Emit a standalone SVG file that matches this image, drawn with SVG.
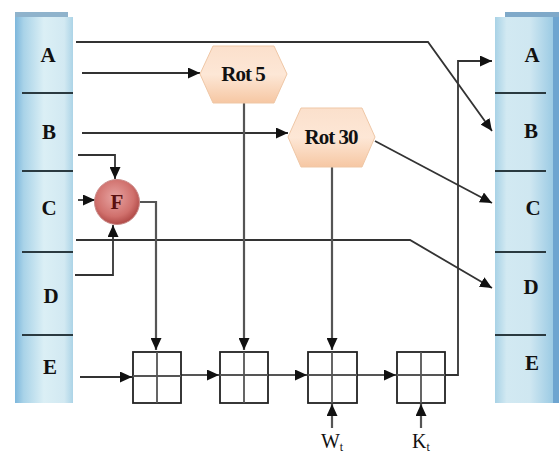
<svg xmlns="http://www.w3.org/2000/svg" width="559" height="457" viewBox="0 0 559 457">
<defs>
<linearGradient id="colL" x1="0" y1="0" x2="1" y2="0">
<stop offset="0" stop-color="#7db7dc"/>
<stop offset="0.15" stop-color="#a9d3e8"/>
<stop offset="0.5" stop-color="#dbeff5"/>
<stop offset="0.85" stop-color="#d2e9f2"/>
<stop offset="1" stop-color="#acd4e7"/>
</linearGradient>
<linearGradient id="colR" x1="0" y1="0" x2="1" y2="0">
<stop offset="0" stop-color="#a8d2e6"/>
<stop offset="0.2" stop-color="#d2e9f2"/>
<stop offset="0.6" stop-color="#cfe7f1"/>
<stop offset="1" stop-color="#9ccbe4"/>
</linearGradient>
<linearGradient id="hex" x1="0" y1="0" x2="0" y2="1">
<stop offset="0" stop-color="#fbe0cc"/>
<stop offset="0.5" stop-color="#fde7d6"/>
<stop offset="1" stop-color="#f6c7a3"/>
</linearGradient>
<radialGradient id="fball" cx="0.45" cy="0.4" r="0.6">
<stop offset="0" stop-color="#e7a4a2"/>
<stop offset="0.7" stop-color="#d0706c"/>
<stop offset="1" stop-color="#b04a47"/>
</radialGradient>
<marker id="ah" markerUnits="userSpaceOnUse" markerWidth="13" markerHeight="11" refX="12" refY="5.5" orient="auto" viewBox="0 0 13 11">
<path d="M0,0 L12,5.5 L0,11 z" fill="#111"/>
</marker>
</defs>
<style>
.lbl{font-family:"Liberation Serif","DejaVu Serif","Times New Roman",serif;font-weight:bold;font-size:21px;fill:#111;text-anchor:middle}
.rot{font-family:"Liberation Serif","DejaVu Serif","Times New Roman",serif;font-weight:bold;font-size:21px;fill:#111;text-anchor:middle;letter-spacing:-1px}
.sub{font-family:"Liberation Serif","DejaVu Serif","Times New Roman",serif;font-size:20px;fill:#111;text-anchor:middle}
.div{stroke:#2a3a40;stroke-width:2}
.c{fill:none;stroke:#333;stroke-width:1.8;marker-end:url(#ah)}
.g{fill:none;stroke:#555;stroke-width:2.2;marker-end:url(#ah)}
.box{fill:#fff;stroke:#222;stroke-width:1.8}
.cross{stroke:#555;stroke-width:1.8}
.hx{fill:url(#hex);stroke:#efc7a6;stroke-width:1}
</style>
<rect width="559" height="457" fill="#fff"/>
<g id="left-column">
<rect x="15" y="12" width="53" height="6" fill="#8fb3cc"/>
<rect x="15" y="17" width="58" height="386" fill="url(#colL)"/>
<line class="div" x1="22" y1="93" x2="73" y2="93"/>
<line class="div" x1="22" y1="171" x2="73" y2="171"/>
<line class="div" x1="22" y1="252" x2="73" y2="252"/>
<line class="div" x1="22" y1="335" x2="73" y2="335"/>
<text class="lbl" x="48" y="62">A</text>
<text class="lbl" x="49" y="139">B</text>
<text class="lbl" x="49" y="215">C</text>
<text class="lbl" x="51" y="303">D</text>
<text class="lbl" x="50" y="374">E</text>
</g>
<g id="right-column">
<rect x="505" y="12" width="54" height="6" fill="#7fa9c9"/>
<rect x="495" y="17" width="58" height="386" fill="url(#colR)"/>
<rect x="553" y="17" width="6" height="386" fill="#6ea5d0"/>
<line class="div" x1="495" y1="93" x2="546" y2="93"/>
<line class="div" x1="495" y1="171" x2="546" y2="171"/>
<line class="div" x1="495" y1="252" x2="546" y2="252"/>
<line class="div" x1="495" y1="335" x2="546" y2="335"/>
<text class="lbl" x="532" y="62">A</text>
<text class="lbl" x="531" y="138">B</text>
<text class="lbl" x="533" y="215">C</text>
<text class="lbl" x="531" y="294">D</text>
<text class="lbl" x="532" y="370">E</text>
</g>
<g id="connectors">
<path class="c" d="M76 42 H428 L492 131"/>
<path class="c" d="M82 73 H200"/>
<path class="c" d="M82 133 H288"/>
<path class="c" d="M375 141 L492 203"/>
<path class="c" d="M78 155 H115 V179"/>
<path class="c" d="M78 200 H95"/>
<path class="c" d="M75 275 H113 V225"/>
<path class="c" d="M76 240 H410 L492 288"/>
<path class="g" d="M140 202 H156 V350"/>
<path class="g" d="M244 103 V350"/>
<path class="g" d="M332 167 V350"/>
<path class="c" d="M80 377 H132"/>
<path class="g" d="M181 375 H219"/>
<path class="g" d="M268 375 H307"/>
<path class="g" d="M357 375 H396"/>
<path class="c" d="M445 375 H458 V61 H492"/>
<path class="g" d="M332 428 V404"/>
<path class="g" d="M421 428 V404"/>
</g>
<g id="rot5">
<polygon class="hx" points="200,74 213,46 274,46 287,74 274,103 213,103"/>
<text class="rot" x="243" y="81">Rot 5</text>
</g>
<g id="rot30">
<polygon class="hx" points="288,137 301,108 362,108 375,137 362,167 301,167"/>
<text class="rot" x="331" y="144">Rot 30</text>
</g>
<g id="f">
<circle cx="117" cy="202" r="22.5" fill="url(#fball)" stroke="#c98a88" stroke-width="1"/>
<text class="lbl" x="117" y="209" style="fill:#5a1010">F</text>
</g>
<g id="add1">
<rect class="box" x="133" y="352" width="48" height="51"/>
<line class="cross" x1="157" y1="352" x2="157" y2="403"/>
<line class="cross" x1="133" y1="376" x2="181" y2="376"/>
</g>
<g id="add2">
<rect class="box" x="220" y="352" width="48" height="51"/>
<line class="cross" x1="244" y1="352" x2="244" y2="403"/>
<line class="cross" x1="220" y1="375" x2="268" y2="375"/>
</g>
<g id="add3">
<rect class="box" x="308" y="352" width="49" height="51"/>
<line class="cross" x1="332" y1="352" x2="332" y2="403"/>
<line class="cross" x1="308" y1="375" x2="357" y2="375"/>
</g>
<g id="add4">
<rect class="box" x="397" y="352" width="48" height="51"/>
<line class="cross" x1="421" y1="352" x2="421" y2="403"/>
<line class="cross" x1="397" y1="375" x2="445" y2="375"/>
</g>
<g id="wt">
<text class="sub" x="332" y="448">W<tspan font-size="12" dy="3">t</tspan></text>
</g>
<g id="kt">
<text class="sub" x="421" y="448">K<tspan font-size="12" dy="3">t</tspan></text>
</g>
</svg>
